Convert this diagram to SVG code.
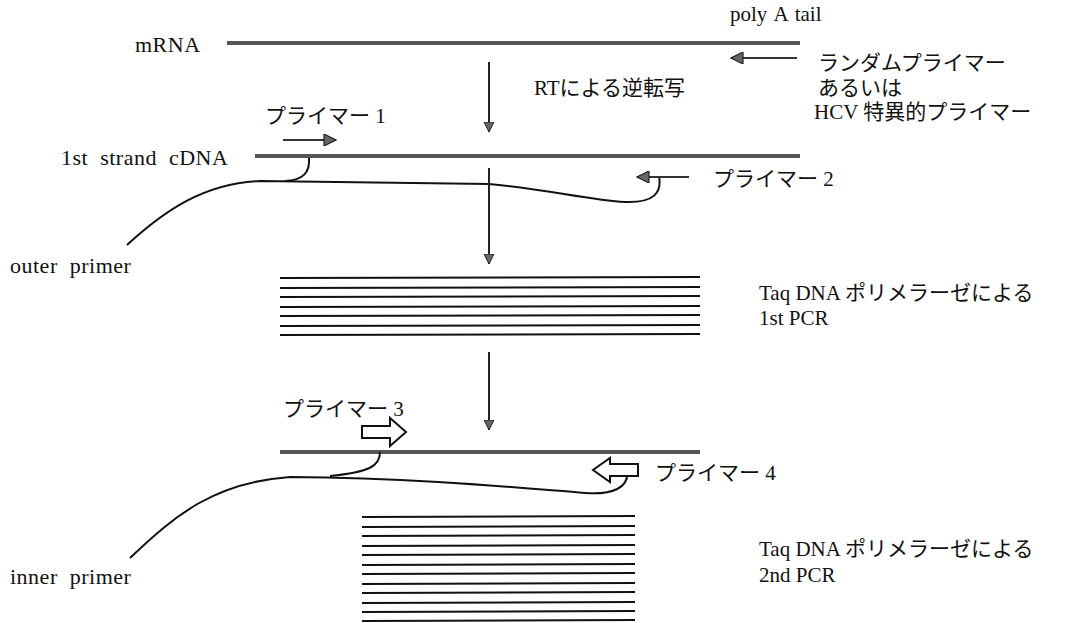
<svg xmlns="http://www.w3.org/2000/svg" width="1081" height="623" viewBox="0 0 1081 623">
<defs>
<marker id="ah" viewBox="0 0 10 10" refX="10" refY="5" markerWidth="5" markerHeight="7" markerUnits="strokeWidth" orient="auto">
<path d="M0,0 L10,5 L0,10 Z" fill="#666" stroke="#222" stroke-width="1"/>
</marker>
<marker id="ahs" viewBox="0 0 10 10" refX="10" refY="5" markerWidth="7" markerHeight="6" markerUnits="strokeWidth" orient="auto">
<path d="M0,0 L10,5 L0,10 Z" fill="#666" stroke="#222" stroke-width="1"/>
</marker>
</defs>
<style>
text{font-family:"Liberation Serif","Noto Sans CJK JP",serif;fill:#111;font-size:21px}
.lat{font-size:22px;word-spacing:6px;letter-spacing:0.5px}
.strand{stroke:#555;stroke-width:4;fill:none}
.curve{stroke:#111;stroke-width:2;fill:none}
.arrow{stroke:#222;stroke-width:2;fill:none;marker-end:url(#ah)}
.small{stroke:#333;stroke-width:2;fill:none;marker-end:url(#ahs)}
.pcr{stroke:#111;stroke-width:2}
.hollow{fill:#fff;stroke:#111;stroke-width:2}
</style>
<rect width="1081" height="623" fill="#fff"/>

<g id="mrna">
<line class="strand" x1="227" y1="43" x2="800" y2="43"/>
<text x="135" y="52" class="lat">mRNA</text>
<text x="730" y="21" font-size="16" word-spacing="2">poly A tail</text>
</g>

<g id="random-primer">
<line class="small" x1="797" y1="58" x2="731" y2="58"/>
<text x="818" y="70">ランダムプライマー</text>
<text x="818" y="95">あるいは</text>
<text x="814" y="119">HCV 特異的プライマー</text>
</g>

<g id="rt-label">
<text x="534" y="95" font-size="20">RTによる逆転写</text>
</g>

<g id="cdna">
<line class="strand" x1="255" y1="156" x2="800" y2="156"/>
<text x="61" y="165" class="lat" font-size="23">1st strand cDNA</text>
</g>

<g id="primer1">
<line class="small" x1="283" y1="140" x2="336" y2="140"/>
<text x="265" y="123">プライマー 1</text>
</g>

<g id="outer-strand">
<path class="curve" d="M127,245 C165,210 205,183 260,181 L 489,184 C 540,188 590,200 625,202 C 655,203 662,192 659,176"/>
<path class="curve" d="M309,158 C310,172 304,180 285,181"/>
<text x="10" y="273" class="lat">outer primer</text>
</g>

<g id="primer2">
<line class="small" x1="689" y1="177" x2="637" y2="177"/>
<text x="713" y="186">プライマー 2</text>
</g>

<g id="pcr1">
<g class="pcr">
<line x1="280" y1="278" x2="700" y2="277"/>
<line x1="280" y1="288" x2="700" y2="287"/>
<line x1="280" y1="297" x2="700" y2="296"/>
<line x1="280" y1="307" x2="700" y2="306"/>
<line x1="280" y1="316" x2="700" y2="315"/>
<line x1="280" y1="326" x2="700" y2="325"/>
<line x1="280" y1="335" x2="700" y2="334"/>
</g>
<text x="759" y="300">Taq DNA ポリメラーゼによる</text>
<text x="759" y="325">1st PCR</text>
</g>

<g id="template2">
<line class="strand" x1="280" y1="452" x2="700" y2="452" stroke-width="3"/>
</g>

<g id="primer3">
<path class="hollow" d="M362,426 L390,426 L390,418 L406,432 L390,446 L390,438 L362,438 Z"/>
<text x="283" y="416">プライマー 3</text>
</g>

<g id="inner-strand">
<path class="curve" d="M130,558 C175,515 215,482 290,477 C 420,478 520,488 585,493 C 612,495 630,488 627,470"/>
<path class="curve" d="M380,452 C380,466 370,472 330,476"/>
<text x="10" y="584" class="lat">inner primer</text>
</g>

<g id="primer4">
<path class="hollow" d="M638,476 L610,476 L610,482 L593,470 L610,458 L610,464 L638,464 Z"/>
<text x="655" y="480">プライマー 4</text>
</g>

<g id="pcr2">
<g class="pcr">
<line x1="362" y1="517" x2="635" y2="516"/>
<line x1="362" y1="527" x2="635" y2="526"/>
<line x1="362" y1="536" x2="635" y2="535"/>
<line x1="362" y1="546" x2="635" y2="545"/>
<line x1="362" y1="555" x2="635" y2="554"/>
<line x1="362" y1="565" x2="635" y2="564"/>
<line x1="362" y1="574" x2="635" y2="573"/>
<line x1="362" y1="584" x2="635" y2="583"/>
<line x1="362" y1="593" x2="635" y2="592"/>
<line x1="362" y1="603" x2="635" y2="602"/>
<line x1="362" y1="612" x2="635" y2="611"/>
<line x1="362" y1="621" x2="635" y2="620"/>
</g>
<text x="759" y="556">Taq DNA ポリメラーゼによる</text>
<text x="759" y="582">2nd PCR</text>
</g>

<g id="connectors">
<line class="arrow" x1="489" y1="62" x2="489" y2="132"/>
<line class="arrow" x1="489" y1="168" x2="489" y2="264"/>
<line class="arrow" x1="489" y1="352" x2="489" y2="430"/>
</g>
</svg>
